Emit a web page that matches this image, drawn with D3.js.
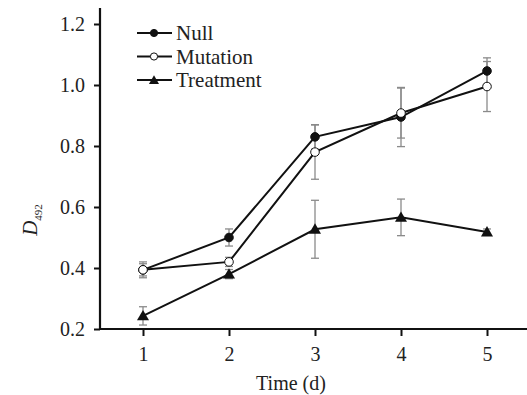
<!DOCTYPE html>
<html>
<head>
<meta charset="utf-8">
<script src="https://cdn.jsdelivr.net/npm/d3@7"></script>
<style>
  body { margin: 0; background: #fff; }
</style>
</head>
<body>
<div id="app"></div>
<script>
const days = [1, 2, 3, 4, 5];
const yTicks = [0.2, 0.4, 0.6, 0.8, 1.0, 1.2];

const nullMean = [0.394, 0.50, 0.83, 0.895, 1.046];
const nullErr = [0.026, 0.028, 0.04, 0.097, 0.043];
const mutMean = [0.394, 0.42, 0.78, 0.908, 0.995];
const mutErr = [0.02, 0.015, 0.089, 0.082, 0.082];
const treatMean = [0.243, 0.38, 0.527, 0.566, 0.518];
const treatErr = [0.03, 0.015, 0.095, 0.06, 0.01];

const seriesNames = ["Null", "Mutation", "Treatment"];

const W = 527, H = 395;
const FONT = "'Liberation Serif', 'Times New Roman', serif";
const margin = { top: 8, left: 100 };

const x = d3.scaleLinear().domain([0.5, 5.5]).range([100, 530]);
const y = d3.scaleLinear().domain([0.2, 1.2]).range([329, 24]);

const svg = d3.select("#app").append("svg")
  .attr("width", W).attr("height", H)
  .attr("font-family", FONT);

// axes
const yAxis = svg.append("g")
  .attr("transform", `translate(${margin.left},0)`)
  .call(d3.axisLeft(y).tickValues(yTicks).tickFormat(d3.format(".1f")).tickSize(6).tickSizeOuter(0));
yAxis.select(".domain").attr("d", `M0,${margin.top}V${y(0.2)}`);

const xAxis = svg.append("g")
  .attr("transform", `translate(0,${y(0.2)})`)
  .call(d3.axisBottom(x).tickValues(days).tickFormat(d3.format("d")).tickSize(7).tickSizeOuter(0));
xAxis.select(".domain").attr("d", `M${margin.left},0H${W}`);

svg.selectAll("g").attr("font-family", FONT);
svg.selectAll(".domain").attr("stroke", "#111").attr("stroke-width", 2.2);
svg.selectAll(".tick line").attr("stroke", "#111").attr("stroke-width", 2);
yAxis.selectAll(".tick text").attr("font-size", 20).attr("x", -15).attr("fill", "#222");
xAxis.selectAll(".tick text").attr("font-size", 20).attr("y", 18).attr("fill", "#222");

// labels
svg.append("text")
  .attr("x", 291).attr("y", 390)
  .attr("text-anchor", "middle").attr("font-size", 20).attr("fill", "#222")
  .text("Time (d)");

const yl = svg.append("text")
  .attr("transform", "translate(37,220) rotate(-90)")
  .attr("text-anchor", "middle").attr("font-size", 21).attr("fill", "#222");
yl.append("tspan").attr("font-style", "italic").text("D");
yl.append("tspan").attr("font-size", 11).attr("dy", 5).text("492");

const series = [
  { name: seriesNames[0], mean: nullMean, err: nullErr, shape: "circle", fill: "#111" },
  { name: seriesNames[1], mean: mutMean, err: mutErr, shape: "circle", fill: "#fff" },
  { name: seriesNames[2], mean: treatMean, err: treatErr, shape: "triangle", fill: "#111" }
];

// error bars
series.forEach(s => {
  const g = svg.append("g").attr("stroke", "#8a8a8a").attr("stroke-width", 1.3);
  days.forEach((d, i) => {
    const lo = y(s.mean[i] - s.err[i]), hi = y(s.mean[i] + s.err[i]);
    g.append("line").attr("x1", x(d)).attr("x2", x(d)).attr("y1", lo).attr("y2", hi);
    g.append("line").attr("x1", x(d) - 4).attr("x2", x(d) + 4).attr("y1", lo).attr("y2", lo);
    g.append("line").attr("x1", x(d) - 4).attr("x2", x(d) + 4).attr("y1", hi).attr("y2", hi);
  });
});

const line = d3.line().x((d, i) => x(days[i])).y(d => y(d));

function marker(g, s, cx, cy, r) {
  if (s.shape === "circle") {
    g.append("circle").attr("cx", cx).attr("cy", cy).attr("r", r)
      .attr("fill", s.fill).attr("stroke", "#111").attr("stroke-width", 1);
  } else {
    g.append("path")
      .attr("d", d3.symbol(d3.symbolTriangle, r * r * 3.4)())
      .attr("transform", `translate(${cx},${cy + 1})`)
      .attr("fill", s.fill);
  }
}

series.forEach(s => {
  svg.append("path").datum(s.mean)
    .attr("d", line).attr("fill", "none")
    .attr("stroke", "#111").attr("stroke-width", 2);
});
series.forEach(s => {
  const g = svg.append("g");
  s.mean.forEach((v, i) => marker(g, s, x(days[i]), y(v), 4.3));
});

// legend
const leg = svg.append("g");
series.forEach((s, i) => {
  const ly = 33 + i * 23.5;
  leg.append("line").attr("x1", 137).attr("x2", 172).attr("y1", ly).attr("y2", ly)
    .attr("stroke", "#111").attr("stroke-width", 2);
  marker(leg, s, 154, ly, 3.6);
  leg.append("text").attr("x", 176).attr("y", ly + 7).attr("font-size", 21)
    .attr("fill", "#222").text(s.name);
});
</script>
</body>
</html>
